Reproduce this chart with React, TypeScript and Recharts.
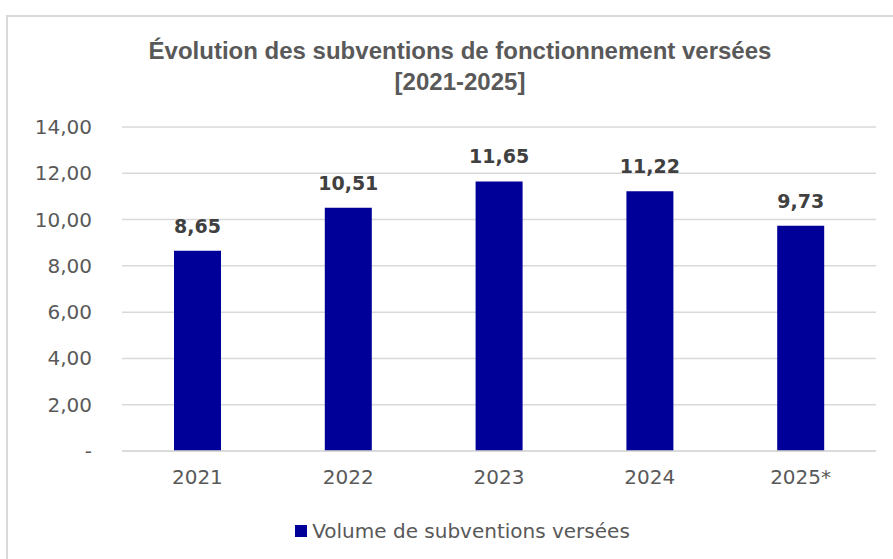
import React from 'react';
import { BarChart, Bar, XAxis, YAxis, CartesianGrid, LabelList } from 'recharts';

const years = ['2021', '2022', '2023', '2024', '2025*'];
const volumes = [8.65, 10.51, 11.65, 11.22, 9.73];
const yTicks = [0, 2, 4, 6, 8, 10, 12, 14];

const data = years.map((year, i) => ({ year, volume: volumes[i] }));

const FONT = '"DejaVu Sans", sans-serif';
const fmt = (v: number) => (v === 0 ? '-' : v.toFixed(2).replace('.', ','));

const YTick = ({ y, payload }: any) => (
  <text x={92} y={y} dy={7} textAnchor="end" fill="#595959" fontSize={20} fontFamily={FONT}>
    {fmt(payload.value)}
  </text>
);

const XTick = ({ x, y, payload }: any) => (
  <text x={x} y={y} dy={25} textAnchor="middle" fill="#595959" fontSize={20} fontFamily={FONT}>
    {payload.value}
  </text>
);

export default function App() {
  return (
    <div style={{ position: 'fixed', left: 0, top: 0, width: 893, height: 559, background: '#fff', overflow: 'hidden' }}>
      {/* chart frame, cut off at the right and bottom */}
      <div style={{ position: 'absolute', left: 6, top: 15, width: 920, height: 600, border: '2px solid #d9d9d9' }} />
      <div
        style={{
          position: 'absolute',
          left: 0,
          width: 920,
          top: 35,
          textAlign: 'center',
          fontFamily: '"Liberation Sans", sans-serif',
          fontWeight: 'bold',
          fontSize: 24,
          lineHeight: '31px',
          color: '#595959',
        }}
      >
        Évolution des subventions de fonctionnement versées
        <br />
        [2021-2025]
      </div>
      <div style={{ position: 'absolute', left: 0, top: 0 }}>
        <BarChart width={893} height={559} data={data} margin={{ top: 127, right: 17, left: 7, bottom: 78 }} barCategoryGap={52}>
          <CartesianGrid vertical={false} stroke="#d9d9d9" strokeWidth={1.5} />
          <XAxis dataKey="year" height={30} tick={<XTick />} tickLine={false} axisLine={{ stroke: '#d9d9d9', strokeWidth: 1.5 }} />
          <YAxis width={115} domain={[0, 14]} ticks={yTicks} tick={<YTick />} tickLine={false} axisLine={false} interval={0} />
          <Bar dataKey="volume" fill="#000099" isAnimationActive={false}>
            <LabelList
              dataKey="volume"
              position="top"
              offset={18}
              formatter={(v: any) => fmt(Number(v))}
              style={{ fill: '#404040', fontWeight: 'bold', fontSize: 19, fontFamily: FONT }}
            />
          </Bar>
        </BarChart>
      </div>
      <div
        style={{
          position: 'absolute',
          left: 0,
          width: 925,
          top: 519,
          display: 'flex',
          justifyContent: 'center',
          alignItems: 'center',
          fontFamily: FONT,
          fontSize: 20,
          color: '#595959',
        }}
      >
        <span style={{ width: 12, height: 12, background: '#000099', marginRight: 5, display: 'inline-block' }} />
        Volume de subventions versées
      </div>
    </div>
  );
}
